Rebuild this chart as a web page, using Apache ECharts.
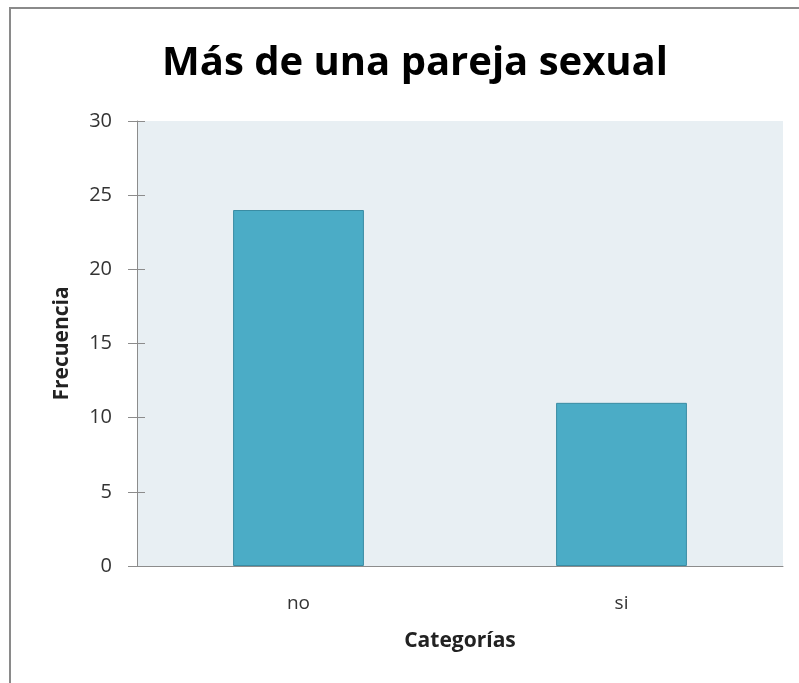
<!DOCTYPE html>
<html>
<head>
<meta charset="utf-8">
<script src="https://cdn.jsdelivr.net/npm/echarts@6/dist/echarts.min.js"></script>
<style>
html,body{margin:0;padding:0;background:#fff;}
#frame{position:absolute;left:9px;top:7px;width:820px;height:700px;border-left:2px solid #8a8a8a;border-top:2px solid #8a8a8a;box-sizing:border-box;}
#chart{position:absolute;left:0;top:0;width:799px;height:683px;}
</style>
</head>
<body>
<div id="frame"></div>
<div id="chart"></div>
<script>
const titleText = 'Más de una pareja sexual';
const categories = ['no', 'si'];
const frecuencia = [24, 11];
const yTicks = [0, 5, 10, 15, 20, 25, 30];
const yName = 'Frecuencia';
const xName = 'Categorías';

const chart = echarts.init(document.getElementById('chart'), null, {renderer: 'canvas'});
chart.setOption({
  backgroundColor: 'transparent',
  animation: false,
  title: {
    text: titleText,
    left: 410,
    textAlign: 'center',
    top: 39,
    textStyle: {fontFamily: 'Open Sans', fontWeight: 'bold', fontSize: 40, color: '#000'}
  },
  grid: {left: 137, right: 16, top: 121, bottom: 117, show: true, backgroundColor: '#E8EFF3', borderWidth: 0},
  xAxis: {
    type: 'category',
    data: categories,
    name: xName,
    nameLocation: 'middle',
    nameGap: 65,
    nameTextStyle: {fontFamily: 'Open Sans', fontWeight: 'bold', fontSize: 21, color: '#222'},
    axisLine: {lineStyle: {color: '#8c8c8c', width: 1}},
    axisTick: {show: false},
    axisLabel: {fontFamily: 'Open Sans', fontSize: 19, color: '#333', margin: 28}
  },
  yAxis: [{
    type: 'value',
    min: yTicks[0],
    max: yTicks[yTicks.length - 1],
    interval: 5,
    name: yName,
    nameLocation: 'middle',
    nameGap: 64,
    nameRotate: 90,
    nameTextStyle: {fontFamily: 'Open Sans', fontWeight: 'bold', fontSize: 21, color: '#222'},
    axisLine: {show: true, lineStyle: {color: '#8c8c8c', width: 1}},
    axisTick: {show: true, length: 9, lineStyle: {color: '#8c8c8c'}},
    splitLine: {show: false},
    axisLabel: {fontFamily: 'Open Sans', fontSize: 20, color: '#333', margin: 25}
  }, {
    type: 'value',
    position: 'left',
    min: yTicks[0],
    max: yTicks[yTicks.length - 1],
    interval: 5,
    axisLine: {show: false},
    axisTick: {show: true, inside: true, length: 8, lineStyle: {color: '#8c8c8c'}},
    axisLabel: {show: false},
    splitLine: {show: false}
  }],
  series: [{
    type: 'bar',
    data: frecuencia,
    barWidth: '40.5%',
    itemStyle: {color: '#4BACC6', borderColor: '#3A8CA3', borderWidth: 1}
  }]
});
</script>
</body>
</html>
